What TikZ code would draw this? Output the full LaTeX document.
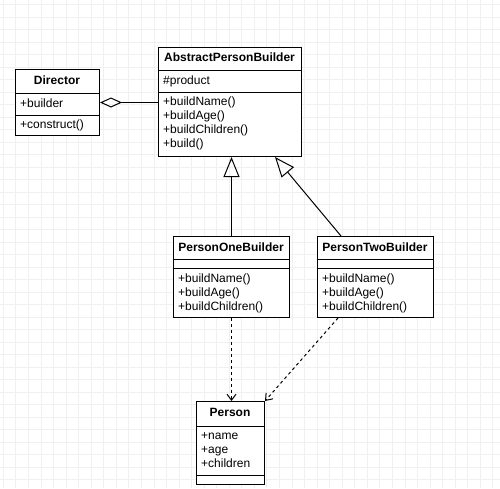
\documentclass[tikz,border=0pt]{standalone}
\usepackage{fontspec}
\setmainfont{Liberation Sans}
\usetikzlibrary{arrows.meta}
\begin{document}
\begin{tikzpicture}[x=1pt,y=-1pt,
  cls/.style={draw=black, line width=1pt, fill=white, inner sep=0pt, anchor=north west},
  ttl/.style={font=\fontsize{12}{14}\selectfont\bfseries, inner sep=0pt, text height=9pt, text depth=3pt},
  mem/.style={font=\fontsize{12}{14}\selectfont, inner sep=0pt, anchor=west, text height=9pt, text depth=3pt},
  sep/.style={line width=1pt},
  gridc/.style={draw=black!6, line width=0.8pt},
  inh/.style={line width=1pt, -{Triangle[open,length=20pt,width=16pt]}},
  dep/.style={line width=1pt, dash pattern=on 3pt off 3pt, -{Straight Barb[length=6pt,width=9pt]}},
  agg/.style={line width=1pt, {Diamond[open,length=22pt,width=10pt]}-}]
\useasboundingbox (0,0) rectangle (500,488);
\fill[white] (0,0) rectangle (500,488);
\foreach \i in {3.3,15.85,...,500} \draw[gridc] (\i,0) -- (\i,488);
\foreach \j in {4.8,17.3,...,488} \draw[gridc] (0,\j) -- (500,\j);

% AbstractPersonBuilder
\node[cls, minimum width=143pt, minimum height=109pt] (apb) at (158,47) {};
\draw[sep] (158,70) -- (301,70);
\draw[sep] (158,92) -- (301,92);
\node[ttl] (apbt) at (229.5,58.5) {AbstractPersonBuilder};
\node[mem] (apb1) at (163,81) {\#product};
\node[mem] (apb2) at (163,102) {+buildName()};
\node[mem] (apb3) at (163,116) {+buildAge()};
\node[mem] (apb4) at (163,130) {+buildChildren()};
\node[mem] (apb5) at (163,144) {+build()};

% Director
\node[cls, minimum width=84pt, minimum height=66pt] (dir) at (15,69) {};
\draw[sep] (15,93) -- (99,93);
\draw[sep] (15,115) -- (99,115);
\node[ttl] (dirt) at (57,81) {Director};
\node[mem] (dir1) at (20,104) {+builder};
\node[mem] (dir2) at (20,125) {+construct()};

% PersonOneBuilder
\node[cls, minimum width=116pt, minimum height=81pt] (pob) at (173,236) {};
\draw[sep] (173,259) -- (289,259);
\draw[sep] (173,268) -- (289,268);
\node[ttl] (pobt) at (231,248) {PersonOneBuilder};
\node[mem] (pob1) at (178,279) {+buildName()};
\node[mem] (pob2) at (178,293) {+buildAge()};
\node[mem] (pob3) at (178,307) {+buildChildren()};

% PersonTwoBuilder
\node[cls, minimum width=116pt, minimum height=81pt] (ptb) at (317,236) {};
\draw[sep] (317,259) -- (433,259);
\draw[sep] (317,268) -- (433,268);
\node[ttl] (ptbt) at (375,248) {PersonTwoBuilder};
\node[mem] (ptb1) at (322,279) {+buildName()};
\node[mem] (ptb2) at (322,293) {+buildAge()};
\node[mem] (ptb3) at (322,307) {+buildChildren()};

% Person
\node[cls, minimum width=68pt, minimum height=83pt] (per) at (196,401) {};
\draw[sep] (196,426) -- (264,426);
\draw[sep] (196,475) -- (264,475);
\node[ttl] (pert) at (230,413) {Person};
\node[mem] (per1) at (201,436) {+name};
\node[mem] (per2) at (201,450) {+age};
\node[mem] (per3) at (201,464) {+children};

% connectors
\draw[agg] (dir.east) -- (dir.east -| apb.west);
\draw[inh] (pob.north) -- (pob.north |- apb.south);
\draw[inh] ([xshift=24pt]ptb.north west) -- ([xshift=117pt]apb.south west);
\draw[dep] (pob.south) -- (pob.south |- per.north);
\draw[dep] ([xshift=21pt]ptb.south west) -- (per.north east);
\end{tikzpicture}
\end{document}
